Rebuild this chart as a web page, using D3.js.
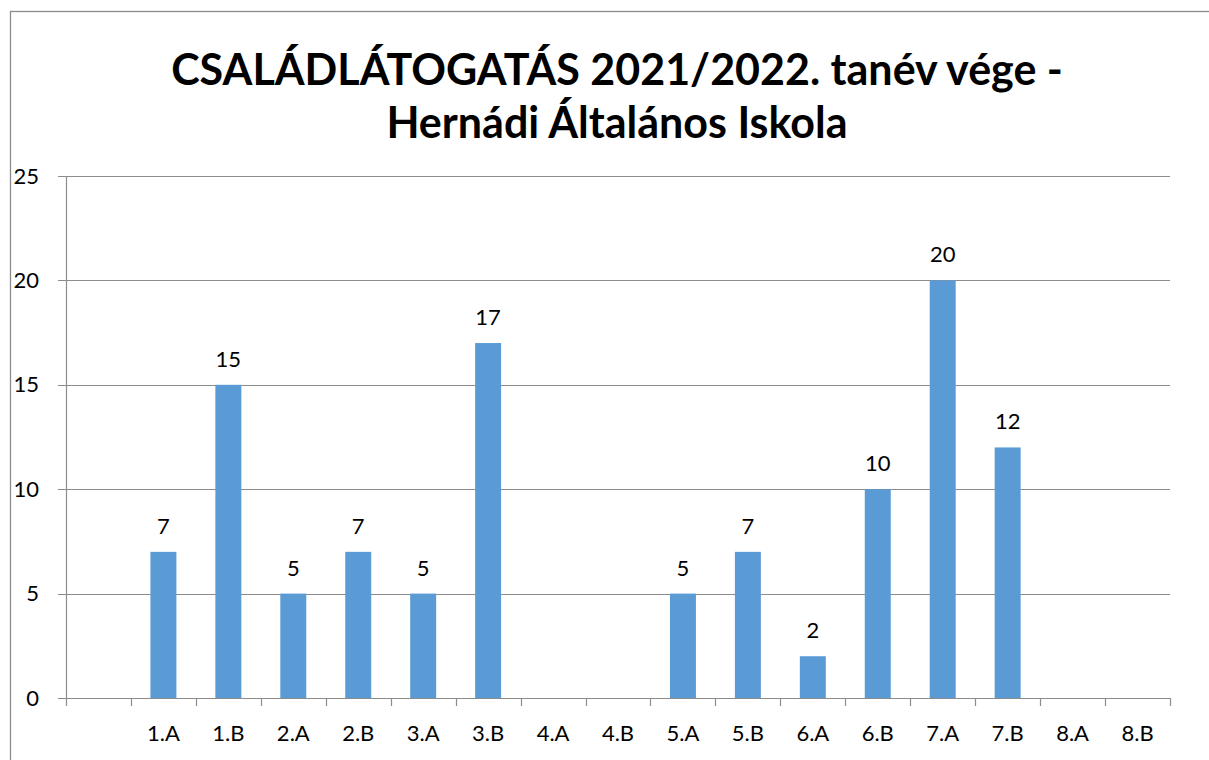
<!DOCTYPE html>
<html>
<head>
<meta charset="utf-8">
<script src="https://cdn.jsdelivr.net/npm/d3@7"></script>
<style>
  body { margin: 0; background: white; }
  svg { display: block; font-family: Lato, "Noto Sans", sans-serif; }
</style>
</head>
<body>
<div id="graph"></div>
<script>
// data
const categories = ["", "1.A", "1.B", "2.A", "2.B", "3.A", "3.B", "4.A", "4.B", "5.A", "5.B", "6.A", "6.B", "7.A", "7.B", "8.A", "8.B"];
const values = [null, 7, 15, 5, 7, 5, 17, null, null, 5, 7, 2, 10, 20, 12, null, null];
const yTicks = [0, 5, 10, 15, 20, 25];
const titleLines = ["CSALÁDLÁTOGATÁS 2021/2022. tanév vége -", "Hernádi Általános Iskola"];

const width = 1209, height = 760;
const plotLeft = 66, plotRight = 1170, plotTop = 176, plotBottom = 698;

const svg = d3.select("#graph").append("svg")
  .attr("width", width).attr("height", height);

// outer chart border (cropped at the right and bottom)
svg.append("rect")
  .attr("x", 10.5).attr("y", 11.5)
  .attr("width", 1300).attr("height", 900)
  .attr("fill", "white")
  .attr("stroke", "#8c8c8c").attr("stroke-width", 1.3);

// title
svg.append("text")
  .attr("x", 617).attr("y", 70)
  .attr("text-anchor", "middle")
  .style("font-size", "43px").style("font-weight", "bold")
  .selectAll("tspan").data(titleLines).enter().append("tspan")
  .attr("x", 617)
  .attr("dy", (d, i) => i === 0 ? "0.35em" : 53)
  .text(d => d);

const x = d3.scaleBand().domain(categories).range([plotLeft, plotRight]).paddingInner(0).paddingOuter(0);
const y = d3.scaleLinear().domain([0, 25]).range([plotBottom, plotTop]);

// gridlines
svg.append("g").selectAll("line").data(yTicks).enter().append("line")
  .attr("x1", plotLeft - 8).attr("x2", plotRight)
  .attr("y1", d => Math.round(y(d)) + 0.5).attr("y2", d => Math.round(y(d)) + 0.5)
  .attr("stroke", "#8c8c8c").attr("stroke-width", 1.2);

// y axis
const yAxis = d3.axisLeft(y).tickValues(yTicks).tickSize(0).tickPadding(27);
const yg = svg.append("g").attr("transform", `translate(${plotLeft},0)`).call(yAxis);
yg.select(".domain").attr("stroke", "#8c8c8c").attr("stroke-width", 1.2);
yg.selectAll("text").style("font-size", "22px").style("fill", "#000")
  .style("font-family", "Lato, 'Noto Sans', sans-serif");

// x axis
const xAxis = d3.axisBottom(x).tickSize(0).tickPadding(27);
const xg = svg.append("g").attr("transform", `translate(0,${plotBottom})`).call(xAxis);
xg.select(".domain").remove();
xg.selectAll("text").style("font-size", "22px").style("fill", "#000")
  .style("font-family", "Lato, 'Noto Sans', sans-serif");
// category boundary ticks
const bounds = categories.map(c => x(c)).concat([plotRight]);
xg.selectAll(".bound").data(bounds).enter().append("line")
  .attr("class", "bound")
  .attr("x1", d => Math.round(d) + 0.5).attr("x2", d => Math.round(d) + 0.5)
  .attr("y1", 0).attr("y2", 8)
  .attr("stroke", "#8c8c8c").attr("stroke-width", 1.2);

// bars
const barW = x.bandwidth() * 0.4;
const data = categories.map((c, i) => ({ c: c, v: values[i] })).filter(d => d.v !== null);

svg.append("g").selectAll("rect").data(data).enter().append("rect")
  .attr("x", d => x(d.c) + (x.bandwidth() - barW) / 2)
  .attr("y", d => y(d.v))
  .attr("width", barW)
  .attr("height", d => y(0) - y(d.v))
  .attr("fill", "#5b9bd5");

// value labels
svg.append("g").selectAll("text").data(data).enter().append("text")
  .attr("x", d => x(d.c) + x.bandwidth() / 2)
  .attr("y", d => y(d.v) - 18)
  .attr("text-anchor", "middle")
  .style("font-size", "22px")
  .text(d => d.v);
</script>
</body>
</html>
